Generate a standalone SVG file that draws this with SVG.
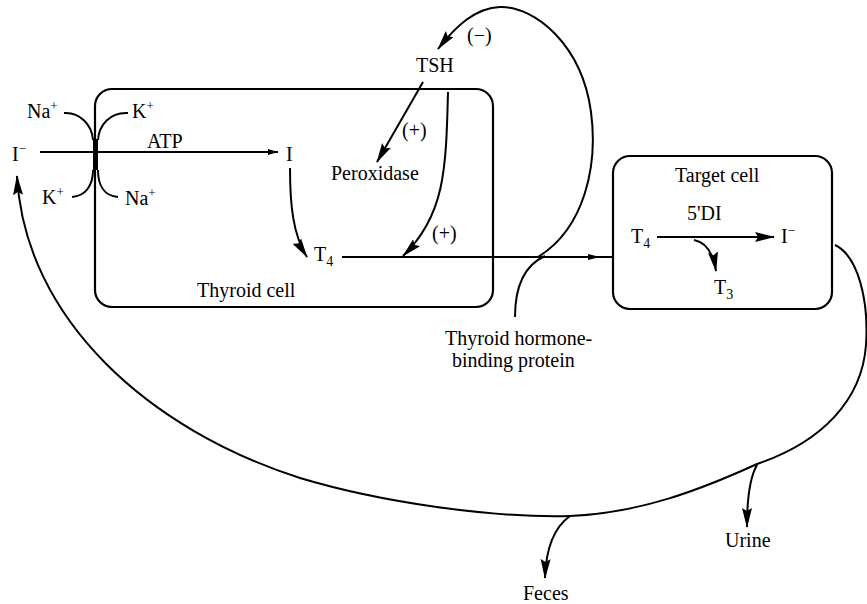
<svg xmlns="http://www.w3.org/2000/svg" width="867" height="604" viewBox="0 0 867 604">
<style>
  text { font-family: "Liberation Serif", "DejaVu Serif", serif; font-size: 20px; fill: #000; }
  .sup { font-size: 13px; }
  .sub { font-size: 14px; }
  .box { fill: none; stroke: #000; stroke-width: 2.2; }
  .ln { fill: none; stroke: #000; stroke-width: 2; }
  .arr { marker-end: url(#ah); }
  .sarr { marker-end: url(#sah); }
</style>
<defs>
  <marker id="ah" markerUnits="userSpaceOnUse" markerWidth="22" markerHeight="12" refX="19" refY="5" orient="auto">
    <path d="M0,0 L20,5 L0,10 L3,5 Z" fill="#000"/>
  </marker>
  <marker id="sah" markerUnits="userSpaceOnUse" markerWidth="12" markerHeight="8" refX="10" refY="3" orient="auto">
    <path d="M0,0 L10,3 L0,6 Z" fill="#000"/>
  </marker>
</defs>
<rect width="867" height="604" fill="#fff"/>

<g id="thyroid-cell">
  <rect class="box" x="95" y="89" width="398" height="218" rx="17" ry="17"/>
  <text x="197" y="297">Thyroid cell</text>
</g>
<g id="target-cell">
  <rect class="box" x="613" y="156" width="219" height="153" rx="17" ry="17"/>
  <text x="675" y="182">Target cell</text>
</g>

<g id="pump">
  <rect x="93" y="139" width="5" height="31" fill="#000"/>
  <path class="ln" d="M64,113 C80,112 92,125 93,140"/>
  <path class="ln" d="M128,113 C110,112 99,125 98,140"/>
  <path class="ln" d="M72,197 C86,196 93,185 93,170"/>
  <path class="ln" d="M118,197 C104,196 98,185 98,170"/>
  <text x="27" y="118">Na<tspan class="sup" dy="-8">+</tspan></text>
  <text x="132" y="118">K<tspan class="sup" dy="-8">+</tspan></text>
  <text x="42" y="204">K<tspan class="sup" dy="-8">+</tspan></text>
  <text x="125" y="205">Na<tspan class="sup" dy="-8">+</tspan></text>
  <text x="147" y="148">ATP</text>
</g>

<g id="iodide-blood">
  <text x="12" y="161">I<tspan class="sup" dy="-8">−</tspan></text>
</g>
<g id="iodine-cell">
  <text x="286" y="161">I</text>
</g>
<g id="t4-thyroid">
  <text x="314" y="261">T<tspan class="sub" dy="5">4</tspan></text>
</g>
<g id="tsh">
  <text x="416" y="72">TSH</text>
</g>
<g id="peroxidase">
  <text x="331" y="180">Peroxidase</text>
</g>
<g id="binding-protein">
  <text x="445" y="345">Thyroid hormone-</text>
  <text x="452" y="367">binding protein</text>
</g>
<g id="t4-target">
  <text x="631" y="243">T<tspan class="sub" dy="5">4</tspan></text>
</g>
<g id="iodide-target">
  <text x="781" y="243">I<tspan class="sup" dy="-8">−</tspan></text>
</g>
<g id="t3">
  <text x="714" y="294">T<tspan class="sub" dy="5">3</tspan></text>
</g>
<g id="dei">
  <text x="687" y="220">5'DI</text>
</g>
<g id="urine">
  <text x="725" y="547">Urine</text>
</g>
<g id="feces">
  <text x="523" y="600">Feces</text>
</g>

<g id="connectors">
  <!-- I- to I across membrane -->
  <path class="ln sarr" d="M40,152 L278,152"/>
  <!-- I to T4 -->
  <path class="ln arr" d="M290,168 C290,205 293,235 307,257"/>
  <!-- TSH to peroxidase -->
  <path class="ln arr" d="M423,82 L377,162"/>
  <text x="402" y="137">(+)</text>
  <!-- TSH to T4 line -->
  <path class="ln arr" d="M448,92 C446,170 445,215 403,256"/>
  <text x="432" y="240">(+)</text>
  <!-- T4 export line -->
  <path class="ln" d="M342,257 L613,257"/>
  <path d="M588,254 L600,257 L588,260 Z" fill="#000"/>
  <!-- negative feedback loop -->
  <path class="ln arr" d="M538,257 C585,228 598,165 591,112 C582,45 535,6 500,7 C475,8 456,26 438,49"/>
  <text x="467" y="42">(−)</text>
  <!-- binding protein -->
  <path class="ln" d="M515,317 C515,285 525,265 545,256"/>
  <!-- target cell: T4 to I- -->
  <path class="ln arr" d="M657,237 L774,237"/>
  <!-- T3 branch -->
  <path class="ln arr" d="M694,240 C705,242 713,252 716,271"/>
  <!-- big return loop -->
  <path class="ln arr" d="M835,245 C858,256 869,300 866,345 C862,400 822,442 757,464 C700,490 640,513 570,516 C490,518 380,502 300,478 C150,430 25,320 17,176"/>
  <!-- urine -->
  <path class="ln arr" d="M757,465 C750,477 747,495 747,527"/>
  <!-- feces -->
  <path class="ln arr" d="M570,516 C556,526 546,545 545,578"/>
</g>
</svg>
